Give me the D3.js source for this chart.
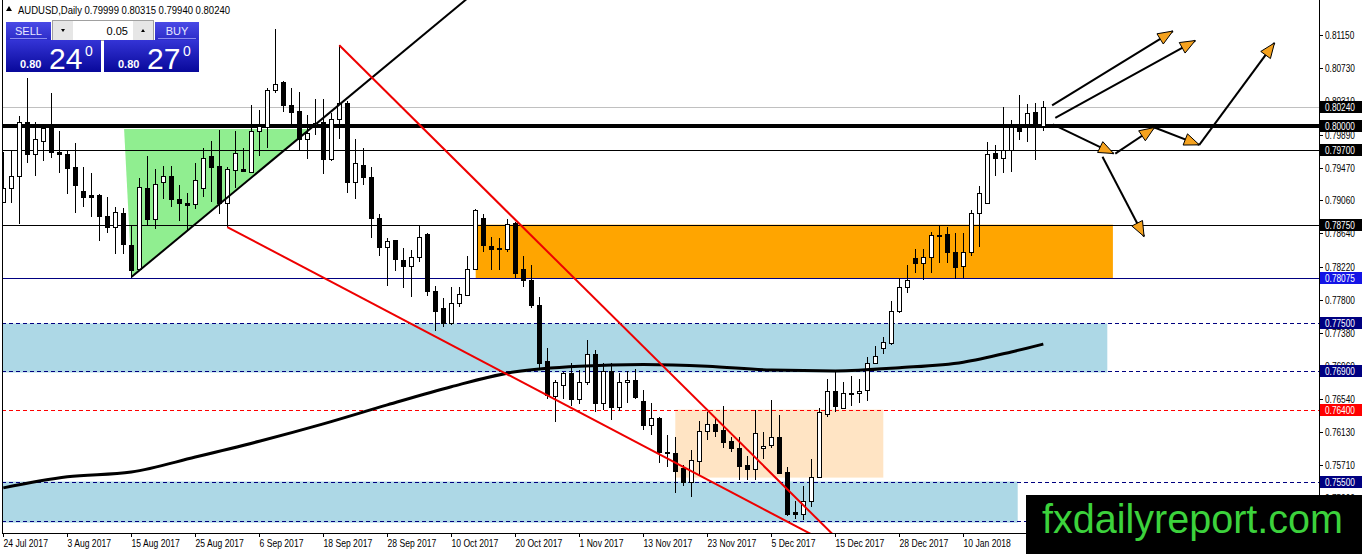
<!DOCTYPE html>
<html>
<head>
<meta charset="utf-8">
<title>AUDUSD Daily</title>
<script src="https://cdn.jsdelivr.net/npm/d3@7"></script>
<style>
  body { margin: 0; background: #fff; }
  svg { display: block; font-family: "Liberation Sans", Arial, sans-serif; }
</style>
</head>
<body>
<div id="chart"></div>
<script>
// ---- values (one entry per daily bar) ----
var opens = [0.7904,0.7922,0.7936,0.8005,0.7965,0.7981,0.7997,0.7967,0.7965,0.7948,
  0.7917,0.7913,0.7913,0.7886,0.7872,0.7890,0.7849,0.7819,0.7922,0.7882,
  0.7929,0.7937,0.7908,0.7902,0.7901,0.7921,0.7962,0.7949,0.7903,0.7944,
  0.7945,0.7942,0.7994,0.7999,0.8045,0.8055,0.8026,0.8019,0.7983,0.8001,
  0.8005,0.7958,0.8009,0.8029,0.7929,0.7951,0.7935,0.7884,0.7847,0.7855,
  0.7830,0.7823,0.7834,0.7863,0.7791,0.7769,0.7750,0.7776,0.7786,0.7819,
  0.7884,0.7848,0.7845,0.7844,0.7877,0.7819,0.7805,0.7774,0.7703,0.7658,
  0.7672,0.7687,0.7655,0.7676,0.7712,0.7649,0.7690,0.7644,0.7676,0.7679,
  0.7652,0.7621,0.7631,0.7587,0.7586,0.7567,0.7549,0.7576,0.7614,0.7623,
  0.7615,0.7601,0.7593,0.7571,0.7566,0.7593,0.7596,0.7606,0.7562,0.7511,
  0.7509,0.7525,0.7556,0.7635,0.7664,0.7643,0.7661,0.7662,0.7666,0.7700,
  0.7719,0.7725,0.7766,0.7796,0.7833,0.7827,0.7834,0.7862,0.7863,0.7840,
  0.7823,0.7841,0.7890,0.7902,0.7966,0.7960,0.7969,0.7999,0.8002,0.8017,
  0.79999];
var highs = [0.7967,0.7970,0.8012,0.8060,0.8005,0.8001,0.8041,0.7993,0.7968,0.7978,
  0.7948,0.7941,0.7914,0.7910,0.7898,0.7896,0.7875,0.7934,0.7962,0.7946,
  0.7949,0.7949,0.7925,0.7915,0.7953,0.7972,0.7981,0.7995,0.7948,0.7993,
  0.7972,0.8026,0.8020,0.8048,0.8123,0.8057,0.8048,0.8043,0.8014,0.8034,
  0.8034,0.8016,0.8102,0.8031,0.7984,0.7972,0.7948,0.7888,0.7858,0.7856,
  0.7845,0.7843,0.7875,0.7864,0.7797,0.7782,0.7796,0.7796,0.7835,0.7895,
  0.7889,0.7860,0.7858,0.7882,0.7879,0.7835,0.7824,0.7783,0.7719,0.7679,
  0.7689,0.7700,0.7691,0.7729,0.7716,0.7700,0.7700,0.7687,0.7690,0.7693,
  0.7666,0.7649,0.7632,0.7609,0.7607,0.7571,0.7590,0.7626,0.7638,0.7630,
  0.7645,0.7607,0.7607,0.7582,0.7640,0.7613,0.7653,0.7634,0.7569,0.7525,
  0.7544,0.7579,0.7643,0.7680,0.7689,0.7676,0.7684,0.7680,0.7708,0.7721,
  0.7733,0.7779,0.7807,0.7824,0.7844,0.7844,0.7866,0.7874,0.7872,0.7864,
  0.7865,0.7894,0.7924,0.7980,0.7976,0.8024,0.8008,0.8039,0.8028,0.8029,
  0.80315];
var lows = [0.7902,0.7902,0.7876,0.7953,0.7936,0.7956,0.7959,0.7940,0.7914,0.7890,
  0.7898,0.7885,0.7854,0.7864,0.7838,0.7838,0.7807,0.7818,0.7875,0.7869,
  0.7908,0.7897,0.7880,0.7867,0.7895,0.7910,0.7904,0.7889,0.7872,0.7921,
  0.7942,0.7941,0.7962,0.7972,0.8041,0.8018,0.7997,0.7970,0.7958,0.7989,
  0.7939,0.7955,0.7984,0.7915,0.7907,0.7925,0.7858,0.7835,0.7797,0.7816,
  0.7795,0.7784,0.7828,0.7785,0.7740,0.7746,0.7748,0.7771,0.7785,0.7818,
  0.7841,0.7818,0.7818,0.7840,0.7807,0.7796,0.7769,0.7693,0.7655,0.7625,
  0.7655,0.7645,0.7648,0.7672,0.7638,0.7640,0.7628,0.7639,0.7649,0.7654,
  0.7615,0.7609,0.7573,0.7569,0.7535,0.7544,0.7531,0.7558,0.7603,0.7606,
  0.7593,0.7588,0.7552,0.7552,0.7552,0.7579,0.7592,0.7560,0.7506,0.7502,
  0.7501,0.7518,0.7554,0.7632,0.7638,0.7642,0.7645,0.7649,0.7652,0.7699,
  0.7711,0.7723,0.7763,0.7788,0.7814,0.7805,0.7814,0.7826,0.7826,0.7806,
  0.7807,0.7836,0.7847,0.7901,0.7937,0.7941,0.7942,0.7982,0.7979,0.7957,
  0.79940];
var closes = [0.7922,0.7936,0.8005,0.7965,0.7984,0.7997,0.7967,0.7965,0.7947,0.7925,
  0.7910,0.7910,0.7886,0.7872,0.7891,0.7850,0.7818,0.7923,0.7882,0.7927,
  0.7936,0.7908,0.7902,0.7900,0.7932,0.7960,0.7948,0.7903,0.7945,0.7966,
  0.7943,0.7994,0.8000,0.8045,0.8053,0.8026,0.8018,0.7983,0.7991,0.8004,
  0.7958,0.8009,0.8029,0.7929,0.7953,0.7935,0.7884,0.7847,0.7854,0.7832,
  0.7823,0.7834,0.7860,0.7791,0.7766,0.7750,0.7776,0.7787,0.7819,0.7893,
  0.7849,0.7844,0.7844,0.7876,0.7814,0.7805,0.7774,0.7700,0.7660,0.7676,
  0.7687,0.7655,0.7676,0.7712,0.7650,0.7690,0.7644,0.7676,0.7679,0.7657,
  0.7621,0.7630,0.7587,0.7586,0.7563,0.7549,0.7577,0.7614,0.7623,0.7614,
  0.7600,0.7593,0.7570,0.7566,0.7611,0.7595,0.7606,0.7561,0.7509,0.7509,
  0.7525,0.7556,0.7638,0.7664,0.7645,0.7662,0.7662,0.7665,0.7700,0.7709,
  0.7726,0.7766,0.7796,0.7805,0.7827,0.7834,0.7862,0.7861,0.7840,0.7821,
  0.7841,0.7890,0.7915,0.7965,0.7960,0.7970,0.7999,0.7993,0.8016,0.8000,
  0.80240];

// date labels on the time axis and the bar they sit on
var dateTickBars = [0, 8, 16, 24, 32, 40, 48, 56, 64, 72, 80, 88, 96, 104, 112, 120];
var dateTickLabels = ["24 Jul 2017", "3 Aug 2017", "15 Aug 2017", "25 Aug 2017", "6 Sep 2017",
  "18 Sep 2017", "28 Sep 2017", "10 Oct 2017", "20 Oct 2017", "1 Nov 2017", "13 Nov 2017",
  "23 Nov 2017", "5 Dec 2017", "15 Dec 2017", "28 Dec 2017", "10 Jan 2018"];

// price scale labels
var priceTicks = [0.81150, 0.80730, 0.80310, 0.79890, 0.79470, 0.79060, 0.78640, 0.78220,
  0.77800, 0.77380, 0.76960, 0.76540, 0.76130, 0.75710, 0.75290];

// moving average, read at a handful of bars
var maBars = [0, 8, 16, 24, 32, 40, 48, 56, 64, 72, 80, 88, 96, 104, 112, 120, 126, 130];
var maValues = [0.7542, 0.7556, 0.7562, 0.7581, 0.7601, 0.7623, 0.7647, 0.7670, 0.7689,
  0.7696, 0.7698, 0.7696, 0.7691, 0.7690, 0.7694, 0.7701, 0.7714, 0.7724];

// horizontal levels drawn on the chart
var levelPrices = [0.80240, 0.80000, 0.79700, 0.78750, 0.78075, 0.77500, 0.76900, 0.76400, 0.75500, 0.75000];

// zones as [first bar, last bar, top price, bottom price]
var blueZones = [[-2, 138, 0.7750, 0.7688], [-2, 126.8, 0.7550, 0.7498]];
var orangeZone = [59.05, 138.7, 0.7875, 0.78075];
var peachZone = [84, 110, 0.7641, 0.7555];
var greenTriangle = [[15.1, 0.7996], [38.3, 0.7996], [16.05, 0.7809]];

// trend lines as [bar, price] pairs
var blackTrend = [[16.05, 0.7809], [60, 0.8178]];
var redUpper = [[42, 0.8102], [104, 0.7480]];
var redLower = [[28, 0.7872], [102, 0.7478]];

// projection arrows [from, to] in [bar, price]
var arrowSegs = [
  [[131.1, 0.8026], [146.2, 0.8120]],
  [[131.5, 0.8010], [149.0, 0.8108]],
  [[131.2, 0.8002], [138.8, 0.7965]],
  [[139.0, 0.7965], [143.9, 0.7998]],
  [[143.9, 0.7998], [149.5, 0.7976]],
  [[149.5, 0.7976], [158.9, 0.8105]],
  [[137.4, 0.7961], [142.6, 0.7860]]
];

// ---- layout ----
var W = 1362, H = 554;
var left = 2, right = 1319, bottom = 533;

var svg = d3.select("#chart").append("svg")
    .attr("width", W).attr("height", H);

var x = d3.scaleLinear().domain([0, 130]).range([3.3, 1043.3]);
var y = d3.scaleLinear().domain([0.74849, 0.81593]).range([bottom, 0]);

svg.append("defs").append("clipPath").attr("id", "plotclip")
  .append("rect").attr("x", left).attr("y", 0).attr("width", right - left).attr("height", bottom);

var plot = svg.append("g").attr("clip-path", "url(#plotclip)");

// compressed text, the terminal font is narrower than ours
function narrowText(g, str, tx, ty, size, sx, color) {
  return g.append("text")
    .attr("transform", "translate(" + tx + "," + ty + ") scale(" + sx + ",1)")
    .attr("font-size", size)
    .attr("fill", color || "#000")
    .text(str);
}

// zones go in the background
blueZones.forEach(function(z) {
  plot.append("rect")
    .attr("x", x(z[0])).attr("y", y(z[2]))
    .attr("width", x(z[1]) - x(z[0])).attr("height", y(z[3]) - y(z[2]))
    .attr("fill", "#add8e6");
});
plot.append("rect")
  .attr("x", x(orangeZone[0])).attr("y", y(orangeZone[2]))
  .attr("width", x(orangeZone[1]) - x(orangeZone[0])).attr("height", y(orangeZone[3]) - y(orangeZone[2]))
  .attr("fill", "#ffa500");
plot.append("rect")
  .attr("x", x(peachZone[0])).attr("y", y(peachZone[2]))
  .attr("width", x(peachZone[1]) - x(peachZone[0])).attr("height", y(peachZone[3]) - y(peachZone[2]))
  .attr("fill", "#ffe4c4");
plot.append("polygon")
  .attr("points", greenTriangle.map(function(p) { return x(p[0]) + "," + y(p[1]); }).join(" "))
  .attr("fill", "#90ee90");

// horizontal levels
var levelStyle = [
  {color: "#c0c0c0", w: 1},
  {color: "#000", w: 4},
  {color: "#000", w: 1},
  {color: "#000", w: 1},
  {color: "#000080", w: 1},
  {color: "#000080", w: 1, dash: "4,3"},
  {color: "#000080", w: 1, dash: "4,3"},
  {color: "#ff0000", w: 1, dash: "4,3"},
  {color: "#000080", w: 1, dash: "4,3"},
  {color: "#000080", w: 1, dash: "4,3"}
];
levelPrices.forEach(function(p, k) {
  var st = levelStyle[k];
  var yy = Math.round(y(p)) + (st.w % 2 ? 0.5 : 0);
  plot.append("line")
    .attr("x1", left).attr("x2", right)
    .attr("y1", yy).attr("y2", yy)
    .attr("stroke", st.color).attr("stroke-width", st.w)
    .attr("stroke-dasharray", st.dash || null);
});

// candles
var bars = d3.range(opens.length).map(function(i) {
  return {i: i, o: opens[i], h: highs[i], l: lows[i], c: closes[i]};
});
var cg = plot.append("g").attr("shape-rendering", "crispEdges");
cg.selectAll("line").data(bars).enter().append("line")
  .attr("x1", function(d) { return Math.round(x(d.i)) + 0.5; })
  .attr("x2", function(d) { return Math.round(x(d.i)) + 0.5; })
  .attr("y1", function(d) { return Math.round(y(d.h)); })
  .attr("y2", function(d) { return Math.round(y(d.l)); })
  .attr("stroke", "#000");
cg.selectAll("rect").data(bars).enter().append("rect")
  .attr("x", function(d) { return Math.round(x(d.i)) - 2 + 0.5; })
  .attr("y", function(d) { return Math.round(y(Math.max(d.o, d.c))) + 0.5; })
  .attr("width", 4)
  .attr("height", function(d) {
    return Math.max(1, Math.round(y(Math.min(d.o, d.c))) - Math.round(y(Math.max(d.o, d.c))));
  })
  .attr("fill", function(d) { return d.c >= d.o ? "#fff" : "#000"; })
  .attr("stroke", "#000");

// moving average
var ma = d3.line()
  .x(function(d, k) { return x(maBars[k]); })
  .y(function(d) { return y(d); })
  .curve(d3.curveMonotoneX);
plot.append("path")
  .attr("d", ma(maValues))
  .attr("fill", "none").attr("stroke", "#000").attr("stroke-width", 3);

// trend lines
function trend(pts, color) {
  plot.append("line")
    .attr("x1", x(pts[0][0])).attr("y1", y(pts[0][1]))
    .attr("x2", x(pts[1][0])).attr("y2", y(pts[1][1]))
    .attr("stroke", color).attr("stroke-width", 2);
}
trend(blackTrend, "#000");
trend(redUpper, "#ee0000");
trend(redLower, "#ee0000");

// projection arrows with orange heads
arrowSegs.forEach(function(s) {
  var x1 = x(s[0][0]), y1 = y(s[0][1]), x2 = x(s[1][0]), y2 = y(s[1][1]);
  plot.append("line")
    .attr("x1", x1).attr("y1", y1).attr("x2", x2).attr("y2", y2)
    .attr("stroke", "#000").attr("stroke-width", 2);
  var a = Math.atan2(y2 - y1, x2 - x1), len = 15, half = 6;
  var bx = x2 - len * Math.cos(a), by = y2 - len * Math.sin(a);
  var pts = [[x2, y2],
    [bx + half * Math.sin(a), by - half * Math.cos(a)],
    [bx - half * Math.sin(a), by + half * Math.cos(a)]];
  plot.append("polygon")
    .attr("points", pts.map(function(p) { return p.join(","); }).join(" "))
    .attr("fill", "#f5a21e").attr("stroke", "#000").attr("stroke-width", 1);
});

// frame and axes
var axis = svg.append("g").attr("shape-rendering", "crispEdges");
axis.append("line").attr("x1", left + 0.5).attr("x2", left + 0.5).attr("y1", 0).attr("y2", bottom + 0.5).attr("stroke", "#000");
axis.append("line").attr("x1", right + 0.5).attr("x2", right + 0.5).attr("y1", 0).attr("y2", bottom + 0.5).attr("stroke", "#000");
axis.append("line").attr("x1", left).attr("x2", right + 1).attr("y1", bottom + 0.5).attr("y2", bottom + 0.5).attr("stroke", "#000");

dateTickBars.forEach(function(b, k) {
  var xx = Math.round(x(b)) + 0.5;
  axis.append("line").attr("x1", xx).attr("x2", xx).attr("y1", bottom).attr("y2", bottom + 4).attr("stroke", "#000");
  narrowText(svg, dateTickLabels[k], xx, 547, 10, 0.86);
});

priceTicks.forEach(function(p) {
  var yy = Math.round(y(p)) + 0.5;
  axis.append("line").attr("x1", right).attr("x2", right + 4).attr("y1", yy).attr("y2", yy).attr("stroke", "#000");
  narrowText(svg, d3.format(".5f")(p), right + 6, yy + 3.5, 10, 0.83);
});

// level labels on the price scale
var labelFill = ["#000", "#000", "#000", "#000", "#1414e6", "#000080", "#000080", "#ff0000", "#000080", null];
levelPrices.forEach(function(p, k) {
  if (!labelFill[k]) return;
  var yy = Math.round(y(p));
  svg.append("rect")
    .attr("x", right + 1).attr("y", yy - 6).attr("width", 42).attr("height", 12)
    .attr("fill", labelFill[k]);
  narrowText(svg, d3.format(".5f")(p), right + 6, yy + 4, 10, 0.83, "#fff");
});

// symbol header
svg.append("path").attr("d", "M6,11 L9,6 L12,11 Z").attr("fill", "#000");
svg.append("text")
  .attr("x", 18).attr("y", 14)
  .attr("font-size", 10)
  .attr("textLength", 212).attr("lengthAdjust", "spacingAndGlyphs")
  .text("AUDUSD,Daily  0.79999 0.80315 0.79940 0.80240");

// one-click trading panel
var defs = svg.select("defs");
var g1 = defs.append("linearGradient").attr("id", "btn").attr("x1", 0).attr("y1", 0).attr("x2", 0).attr("y2", 1);
g1.append("stop").attr("offset", "0%").attr("stop-color", "#4a4ae6");
g1.append("stop").attr("offset", "100%").attr("stop-color", "#2c2cc8");
var g2 = defs.append("linearGradient").attr("id", "quote").attr("x1", 0).attr("y1", 0).attr("x2", 0).attr("y2", 1);
g2.append("stop").attr("offset", "0%").attr("stop-color", "#3434d6");
g2.append("stop").attr("offset", "100%").attr("stop-color", "#08089a");

var panel = svg.append("g");
panel.append("rect").attr("x", 6).attr("y", 22).attr("width", 45).attr("height", 18).attr("fill", "url(#btn)");
panel.append("rect").attr("x", 155).attr("y", 22).attr("width", 44).attr("height", 18).attr("fill", "url(#btn)");
panel.append("line").attr("x1", 10).attr("x2", 47).attr("y1", 38.5).attr("y2", 38.5).attr("stroke", "#8c8cf0");
panel.append("line").attr("x1", 158).attr("x2", 196).attr("y1", 38.5).attr("y2", 38.5).attr("stroke", "#8c8cf0");
panel.append("text").attr("x", 28.5).attr("y", 35).attr("text-anchor", "middle")
  .attr("font-size", 11).attr("fill", "#e8e8ff").text("SELL");
panel.append("text").attr("x", 177).attr("y", 35).attr("text-anchor", "middle")
  .attr("font-size", 11).attr("fill", "#e8e8ff").text("BUY");

// lot size spinner
panel.append("rect").attr("x", 52.5).attr("y", 20.5).attr("width", 101).attr("height", 20)
  .attr("fill", "#fff").attr("stroke", "#a0a0a0");
panel.append("rect").attr("x", 53).attr("y", 21).attr("width", 20).attr("height", 19).attr("fill", "#e6e6e6");
panel.append("rect").attr("x", 133).attr("y", 21).attr("width", 20).attr("height", 19).attr("fill", "#e6e6e6");
panel.append("path").attr("d", "M61,29 L65,29 L63,32 Z").attr("fill", "#000");
panel.append("path").attr("d", "M141,32 L145,32 L143,29 Z").attr("fill", "#000");
panel.append("text").attr("x", 128).attr("y", 35).attr("text-anchor", "end")
  .attr("font-size", 11).attr("fill", "#000").text("0.05");

// bid / ask boxes
[[6, "0.80", "24", "0"], [104, "0.80", "27", "0"]].forEach(function(q) {
  panel.append("rect").attr("x", q[0]).attr("y", 40).attr("width", 95).attr("height", 32).attr("fill", "url(#quote)");
  panel.append("text").attr("x", q[0] + 14).attr("y", 68).attr("font-size", 11).attr("font-weight", "bold")
    .attr("fill", "#fff").text(q[1]);
  panel.append("text").attr("x", q[0] + 43).attr("y", 68.5).attr("font-size", 30)
    .attr("fill", "#fff").text(q[2]);
  panel.append("text").attr("x", q[0] + 79).attr("y", 56).attr("font-size", 14)
    .attr("fill", "#fff").text(q[3]);
});

// site watermark box
svg.append("rect").attr("x", 1026).attr("y", 495).attr("width", 336).attr("height", 59).attr("fill", "#000");
svg.append("text")
  .attr("x", 1042).attr("y", 533)
  .attr("font-size", 40)
  .attr("textLength", 301).attr("lengthAdjust", "spacingAndGlyphs")
  .attr("fill", "#3cd23c")
  .text("fxdailyreport.com");
</script>
</body>
</html>
